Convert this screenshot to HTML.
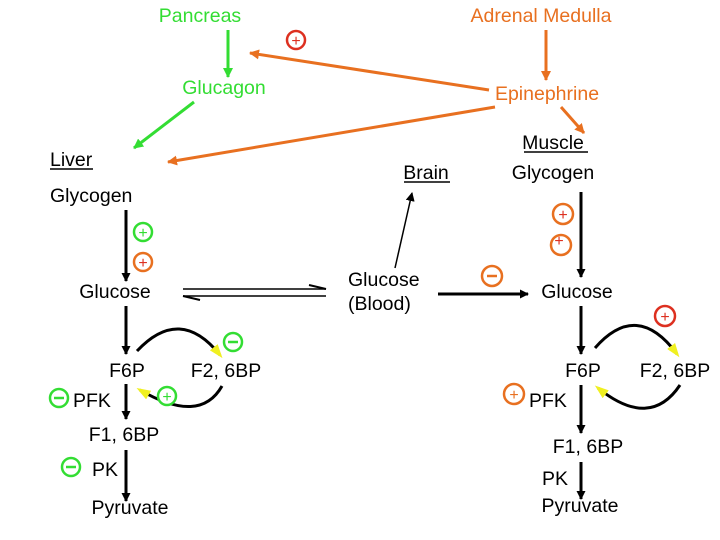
<!DOCTYPE html>
<html><head><meta charset="utf-8"><style>
html,body{margin:0;padding:0;background:#fff;}
svg{display:block;}
text{font-family:"Liberation Sans",Arial,sans-serif;font-size:19.5px;}
</style></head><body>
<svg width="720" height="540" viewBox="0 0 720 540" xmlns="http://www.w3.org/2000/svg">
<defs>
<marker id="ak" markerWidth="9" markerHeight="9" refX="8" refY="4.5" orient="auto" markerUnits="userSpaceOnUse"><path d="M0,0 L9,4.5 L0,9 z" fill="#000"/></marker>
<marker id="ag" markerWidth="10" markerHeight="10" refX="9" refY="5" orient="auto" markerUnits="userSpaceOnUse"><path d="M0,0 L10,5 L0,10 z" fill="#33dd33"/></marker>
<marker id="ao" markerWidth="10" markerHeight="10" refX="9" refY="5" orient="auto" markerUnits="userSpaceOnUse"><path d="M0,0 L10,5 L0,10 z" fill="#e87020"/></marker>
<marker id="ay" markerWidth="14" markerHeight="10" refX="10" refY="5" orient="auto" markerUnits="userSpaceOnUse"><path d="M0,0 L14,5 L0,10 z" fill="#f0f020"/></marker>
</defs>

<text x="200" y="22" text-anchor="middle" fill="#33dd33">Pancreas</text>
<text x="541" y="22" text-anchor="middle" fill="#e87020">Adrenal Medulla</text>
<text x="224" y="94" text-anchor="middle" fill="#33dd33">Glucagon</text>
<text x="547" y="100" text-anchor="middle" fill="#e87020">Epinephrine</text>

<line x1="228" y1="30" x2="228" y2="77" stroke="#33dd33" stroke-width="3" marker-end="url(#ag)"/>
<line x1="546" y1="30" x2="546" y2="80" stroke="#e87020" stroke-width="3" marker-end="url(#ao)"/>
<line x1="489" y1="90" x2="250" y2="53" stroke="#e87020" stroke-width="3" marker-end="url(#ao)"/>
<line x1="194" y1="102" x2="134" y2="148" stroke="#33dd33" stroke-width="3" marker-end="url(#ag)"/>
<line x1="495" y1="107" x2="168" y2="162" stroke="#e87020" stroke-width="3" marker-end="url(#ao)"/>
<line x1="561" y1="107" x2="584" y2="133" stroke="#e87020" stroke-width="3" marker-end="url(#ao)"/>

<circle cx="296" cy="40" r="9" fill="none" stroke="#dd3020" stroke-width="2.5"/>
<text x="296" y="46" text-anchor="middle" fill="#dd3020" style="font-size:16px">+</text>

<text x="50" y="166" fill="#000">Liver</text>
<line x1="50" y1="169" x2="93" y2="169" stroke="#000" stroke-width="1.5"/>
<text x="426" y="179" text-anchor="middle" fill="#000">Brain</text>
<line x1="404" y1="182" x2="450" y2="182" stroke="#000" stroke-width="1.5"/>
<text x="553" y="149" text-anchor="middle" fill="#000">Muscle</text>
<line x1="524" y1="152" x2="588" y2="152" stroke="#000" stroke-width="1.5"/>
<text x="553" y="179" text-anchor="middle" fill="#000">Glycogen</text>

<text x="50" y="202" fill="#000">Glycogen</text>
<line x1="126" y1="210" x2="126" y2="281" stroke="#000" stroke-width="3" marker-end="url(#ak)"/>
<g stroke-width="2.5" fill="none"><circle cx="143" cy="232" r="9" stroke="#33dd33"/><circle cx="143" cy="262" r="9" stroke="#e87020"/></g>
<text x="143" y="238" text-anchor="middle" fill="#33dd33" style="font-size:16px">+</text>
<text x="143" y="268" text-anchor="middle" fill="#dd3020" style="font-size:16px">+</text>
<text x="115" y="298" text-anchor="middle" fill="#000">Glucose</text>

<line x1="183" y1="289" x2="326" y2="289" stroke="#000" stroke-width="1.5"/>
<path d="M309,285 L326,289" stroke="#000" stroke-width="2" fill="none"/>
<line x1="183" y1="296" x2="326" y2="296" stroke="#000" stroke-width="1.5"/>
<path d="M200,300 L183,296" stroke="#000" stroke-width="2" fill="none"/>

<line x1="126" y1="306" x2="126" y2="354" stroke="#000" stroke-width="3" marker-end="url(#ak)"/>
<text x="127" y="377" text-anchor="middle" fill="#000">F6P</text>
<text x="226" y="377" text-anchor="middle" fill="#000">F2, 6BP</text>
<path d="M137,351 Q180,305 220,355" stroke="#000" stroke-width="3" fill="none" marker-end="url(#ay)"/>
<path d="M222,386 Q200,425 140,390" stroke="#000" stroke-width="3" fill="none" marker-end="url(#ay)"/>
<circle cx="233" cy="342" r="9" fill="none" stroke="#33dd33" stroke-width="2.5"/>
<line x1="228" y1="342" x2="238" y2="342" stroke="#33dd33" stroke-width="2.5"/>
<circle cx="167" cy="396" r="9" fill="#fff" stroke="#33dd33" stroke-width="2.5"/>
<text x="167" y="402" text-anchor="middle" fill="#33dd33" style="font-size:16px">+</text>
<circle cx="59" cy="398" r="9" fill="none" stroke="#33dd33" stroke-width="2.5"/>
<line x1="54" y1="398" x2="64" y2="398" stroke="#33dd33" stroke-width="2.5"/>
<text x="73" y="407" fill="#000">PFK</text>
<line x1="126" y1="384" x2="126" y2="419" stroke="#000" stroke-width="3" marker-end="url(#ak)"/>
<text x="124" y="441" text-anchor="middle" fill="#000">F1, 6BP</text>
<line x1="126" y1="450" x2="126" y2="501" stroke="#000" stroke-width="3" marker-end="url(#ak)"/>
<circle cx="71" cy="467" r="9" fill="none" stroke="#33dd33" stroke-width="2.5"/>
<line x1="66" y1="467" x2="76" y2="467" stroke="#33dd33" stroke-width="2.5"/>
<text x="92" y="476" fill="#000">PK</text>
<text x="130" y="514" text-anchor="middle" fill="#000">Pyruvate</text>

<text x="348" y="286" fill="#000">Glucose</text>
<text x="348" y="310" fill="#000">(Blood)</text>
<line x1="395" y1="268" x2="412" y2="193" stroke="#000" stroke-width="1.5" marker-end="url(#ak)"/>
<line x1="438" y1="294" x2="528" y2="294" stroke="#000" stroke-width="3" marker-end="url(#ak)"/>
<circle cx="492" cy="276" r="10" fill="none" stroke="#e87020" stroke-width="2.5"/>
<line x1="487" y1="276" x2="497" y2="276" stroke="#e87020" stroke-width="2.5"/>

<line x1="581" y1="192" x2="581" y2="277" stroke="#000" stroke-width="3" marker-end="url(#ak)"/>
<g stroke-width="2.5" fill="none" stroke="#e87020"><circle cx="563" cy="214" r="10"/><circle cx="561" cy="245" r="10"/></g>
<text x="563" y="220" text-anchor="middle" fill="#dd3020" style="font-size:16px">+</text>
<text x="559" y="246" text-anchor="middle" fill="#dd3020" style="font-size:16px">+</text>
<text x="577" y="298" text-anchor="middle" fill="#000">Glucose</text>
<line x1="581" y1="306" x2="581" y2="354" stroke="#000" stroke-width="3" marker-end="url(#ak)"/>
<text x="583" y="377" text-anchor="middle" fill="#000">F6P</text>
<text x="675" y="377" text-anchor="middle" fill="#000">F2, 6BP</text>
<path d="M595,348 Q637,300 677,354" stroke="#000" stroke-width="3" fill="none" marker-end="url(#ay)"/>
<path d="M680,385 Q650,430 598,388" stroke="#000" stroke-width="3" fill="none" marker-end="url(#ay)"/>
<circle cx="665" cy="316" r="10" fill="none" stroke="#dd3020" stroke-width="2.5"/>
<text x="665" y="322" text-anchor="middle" fill="#dd3020" style="font-size:16px">+</text>
<circle cx="514" cy="394" r="10" fill="none" stroke="#e87020" stroke-width="2.5"/>
<text x="514" y="400" text-anchor="middle" fill="#e87020" style="font-size:16px">+</text>
<text x="529" y="407" fill="#000">PFK</text>
<line x1="581" y1="385" x2="581" y2="433" stroke="#000" stroke-width="3" marker-end="url(#ak)"/>
<text x="588" y="453" text-anchor="middle" fill="#000">F1, 6BP</text>
<text x="542" y="485" fill="#000">PK</text>
<line x1="581" y1="462" x2="581" y2="499" stroke="#000" stroke-width="3" marker-end="url(#ak)"/>
<text x="580" y="512" text-anchor="middle" fill="#000">Pyruvate</text>
</svg>
</body></html>
